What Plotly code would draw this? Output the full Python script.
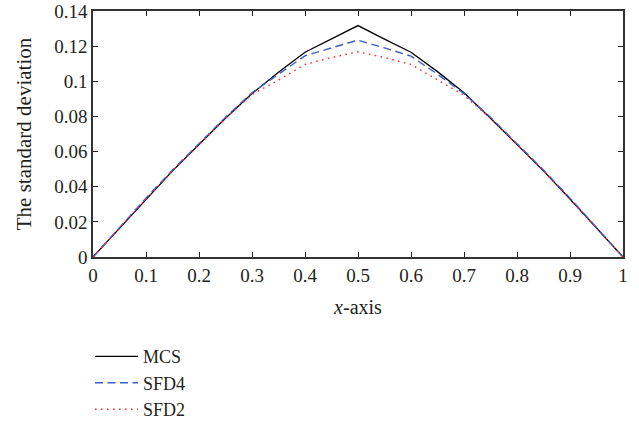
import plotly.graph_objects as go

x_vals = [0, 0.05, 0.1, 0.15, 0.2, 0.25, 0.3, 0.35, 0.4, 0.45, 0.5,
          0.55, 0.6, 0.65, 0.7, 0.75, 0.8, 0.85, 0.9, 0.95, 1.0]
mcs = [0, 0.0165, 0.033, 0.049, 0.064, 0.079, 0.093, 0.1052, 0.1165, 0.124, 0.1317,
       0.124, 0.1165, 0.1055, 0.0935, 0.079, 0.064, 0.049, 0.033, 0.0165, 0]
sfd4 = [0, 0.0168, 0.0335, 0.0495, 0.0645, 0.0795, 0.0935, 0.1040, 0.1145, 0.119, 0.1234,
        0.119, 0.1143, 0.1040, 0.093, 0.0795, 0.0645, 0.0495, 0.0335, 0.0168, 0]
sfd2 = [0, 0.0166, 0.033, 0.049, 0.064, 0.079, 0.0925, 0.1007, 0.1096, 0.1135, 0.1168,
        0.1135, 0.1096, 0.1010, 0.092, 0.079, 0.064, 0.049, 0.033, 0.0166, 0]

x_ticks = [0, 0.1, 0.2, 0.3, 0.4, 0.5, 0.6, 0.7, 0.8, 0.9, 1]
x_labels = ["0", "0.1", "0.2", "0.3", "0.4", "0.5", "0.6", "0.7", "0.8", "0.9", "1"]
y_ticks = [0, 0.02, 0.04, 0.06, 0.08, 0.1, 0.12, 0.14]
y_labels = ["0", "0.02", "0.04", "0.06", "0.08", "0.1", "0.12", "0.14"]

font_family = "Liberation Serif, DejaVu Serif, serif"
text_color = "#231f20"

fig = go.Figure()
fig.add_trace(go.Scatter(x=x_vals, y=mcs, mode="lines", name="MCS",
                         line=dict(color="#000000", width=1.3)))
fig.add_trace(go.Scatter(x=x_vals, y=sfd4, mode="lines", name="SFD4",
                         line=dict(color="#3a5fc8", width=1.4, dash="8px,4.5px")))
fig.add_trace(go.Scatter(x=x_vals, y=sfd2, mode="lines", name="SFD2",
                         line=dict(color="#ff2a2a", width=1.4, dash="1.6px,4.4px")))

axis_common = dict(
    showgrid=False, zeroline=False, showline=True, linecolor="#333333", linewidth=1.5,
    mirror="ticks", ticks="inside", ticklen=5, tickcolor="#222222", tickwidth=1.2,
    tickfont=dict(family=font_family, size=19, color=text_color),
    automargin=False, ticklabeloverflow="allow",
)

fig.update_layout(
    width=639, height=423,
    margin=dict(l=93, r=16, t=11, b=166, autoexpand=False),
    paper_bgcolor="white", plot_bgcolor="white",
    font=dict(family=font_family, size=19, color=text_color),
    xaxis=dict(range=[0, 1], tickvals=x_ticks, ticktext=x_labels,
               title=dict(text="<i>x</i>-axis", font=dict(family=font_family, size=20, color=text_color),
                          standoff=15),
               **axis_common),
    yaxis=dict(range=[0, 0.14], tickvals=y_ticks, ticktext=y_labels,
               title=dict(text="The standard deviation", font=dict(family=font_family, size=21, color=text_color),
                          standoff=17),
               **axis_common),
    legend=dict(x=-0.0057, y=-0.33, xanchor="left", yanchor="top",
                font=dict(family=font_family, size=18, color=text_color),
                bgcolor="rgba(0,0,0,0)", tracegroupgap=0, itemwidth=43),
    showlegend=True,
)

# remove the default 8px page margin so the figure sits at the window's corner
fig.write_html("out.html", config={"displayModeBar": False},
               post_script="document.body.style.margin='0';")
